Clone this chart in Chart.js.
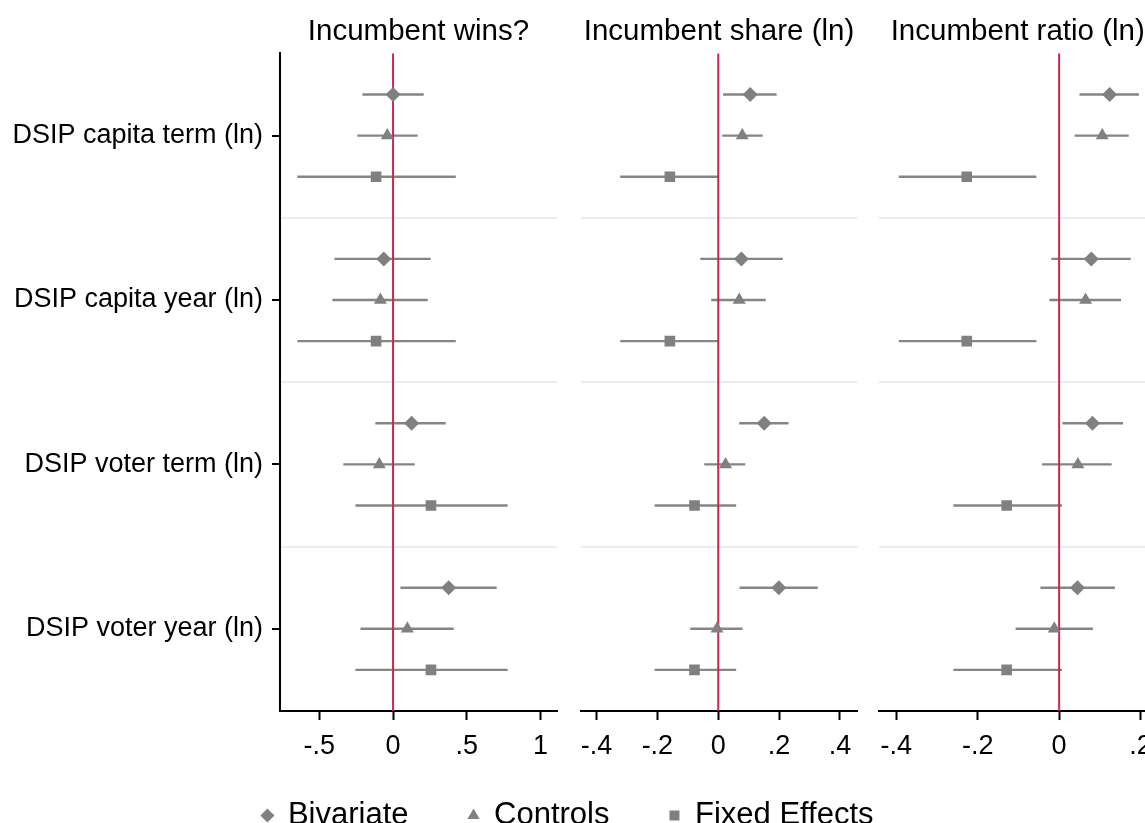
<!DOCTYPE html>
<html>
<head>
<meta charset="utf-8">
<script src="https://cdn.jsdelivr.net/npm/chart.js@4.4.3/dist/chart.umd.min.js"></script>
<style>
  html, body { margin: 0; padding: 0; background: #fff; overflow: hidden; }
  #wrap { position: relative; width: 1145px; height: 823px; overflow: hidden; background: #fff; }
  #wrap canvas { position: absolute; }
</style>
</head>
<body>
<div id="wrap">
  <canvas id="c1" width="570" height="835" style="left:0px;top:0px"></canvas>
  <canvas id="c2" width="300" height="835" style="left:570px;top:0px"></canvas>
  <canvas id="c3" width="300" height="835" style="left:870px;top:0px"></canvas>
  <canvas id="legend" width="1136" height="112" style="left:0px;top:729px"></canvas>
</div>
<script>
// coefficient plot: three outcomes, four DSIP measures, three specifications

const rowLabels = ['DSIP capita term (ln)', 'DSIP capita year (ln)', 'DSIP voter term (ln)', 'DSIP voter year (ln)'];
const seriesNames = ['Bivariate', 'Controls', 'Fixed Effects'];
const panelTitles = ['Incumbent wins?', 'Incumbent share (ln)', 'Incumbent ratio (ln)'];

// Incumbent wins?
const winsBiv   = [0.000, -0.063, 0.126, 0.377];
const winsBivLo = [-0.208, -0.397, -0.120, 0.050];
const winsBivHi = [0.208, 0.255, 0.357, 0.702];
const winsCtl   = [-0.039, -0.086, -0.093, 0.097];
const winsCtlLo = [-0.242, -0.411, -0.337, -0.221];
const winsCtlHi = [0.167, 0.235, 0.147, 0.411];
const winsFE    = [-0.115, -0.115, 0.257, 0.257];
const winsFELo  = [-0.648, -0.648, -0.255, -0.255];
const winsFEHi  = [0.425, 0.425, 0.777, 0.777];

// Incumbent share (ln)
const shareBiv   = [0.105, 0.076, 0.151, 0.199];
const shareBivLo = [0.016, -0.059, 0.069, 0.070];
const shareBivHi = [0.192, 0.212, 0.231, 0.327];
const shareCtl   = [0.079, 0.069, 0.024, -0.004];
const shareCtlLo = [0.013, -0.023, -0.046, -0.092];
const shareCtlHi = [0.146, 0.156, 0.089, 0.080];
const shareFE    = [-0.159, -0.159, -0.078, -0.078];
const shareFELo  = [-0.322, -0.322, -0.209, -0.209];
const shareFEHi  = [0.002, 0.002, 0.059, 0.059];

// Incumbent ratio (ln)
const ratioBiv   = [0.124, 0.079, 0.082, 0.045];
const ratioBivLo = [0.050, -0.019, 0.008, -0.046];
const ratioBivHi = [0.196, 0.176, 0.157, 0.137];
const ratioCtl   = [0.106, 0.065, 0.046, -0.012];
const ratioCtlLo = [0.038, -0.024, -0.042, -0.107];
const ratioCtlHi = [0.171, 0.152, 0.129, 0.083];
const ratioFE    = [-0.227, -0.227, -0.129, -0.129];
const ratioFELo  = [-0.394, -0.394, -0.260, -0.260];
const ratioFEHi  = [-0.056, -0.056, 0.007, 0.007];

// x axis ranges and ticks
const winsRange  = [-0.766, 1.111];
const shareRange = [-0.452, 0.457];
const ratioRange = [-0.4415, 0.238];
const winsTicks  = [-0.5, 0, 0.5, 1];
const winsTickLabels  = ['-.5', '0', '.5', '1'];
const shareTicks = [-0.4, -0.2, 0, 0.2, 0.4];
const shareTickLabels = ['-.4', '-.2', '0', '.2', '.4'];
const ratioTicks = [-0.4, -0.2, 0, 0.2];
const ratioTickLabels = ['-.4', '-.2', '0', '.2'];

const markerStyles = ['rectRot', 'triangle', 'rect'];
const markerSizes = [7.5, 7.5, 7.5];
const markerColor = '#808080';
const barColor = '#858585';
const zeroColor = '#cf2651';
const sepColor = '#e5eef0';

Chart.defaults.font.family = '"Liberation Sans", Arial, sans-serif';
Chart.defaults.color = '#000';

// rows sit at 4*r + s, separators at 4*r + 3
const rowTicks = [1, 3, 5, 7, 9, 11, 13];
const isSep = v => v % 4 === 3;

// horizontal confidence intervals + red zero line, drawn under the markers
const ciPlugin = {
  id: 'ciBars',
  beforeDatasetsDraw(chart) {
    const { ctx, chartArea, scales } = chart;
    const x = scales.x, y = scales.y;
    ctx.save();
    ctx.strokeStyle = barColor;
    ctx.lineWidth = 2.4;
    chart.data.datasets.forEach(ds => {
      ds.data.forEach(p => {
        const py = y.getPixelForValue(p.y);
        ctx.beginPath();
        ctx.moveTo(x.getPixelForValue(p.lo), py);
        ctx.lineTo(x.getPixelForValue(p.hi), py);
        ctx.stroke();
      });
    });
    const x0 = x.getPixelForValue(0);
    ctx.strokeStyle = zeroColor;
    ctx.lineWidth = 2;
    ctx.beginPath();
    ctx.moveTo(x0, chartArea.top);
    ctx.lineTo(x0, chartArea.bottom);
    ctx.stroke();
    ctx.restore();
  }
};

function seriesStyle(s) {
  return {
    label: seriesNames[s],
    pointStyle: markerStyles[s],
    pointRadius: markerSizes[s],
    backgroundColor: markerColor,
    borderColor: markerColor,
    borderWidth: 0
  };
}

function buildPanel(id, p) {
  const datasets = seriesNames.map((name, s) => Object.assign(seriesStyle(s), {
    data: p.series[s][0].map((v, r) => ({ x: v, y: r * 4 + s, lo: p.series[s][1][r], hi: p.series[s][2][r] }))
  }));

  return new Chart(document.getElementById(id), {
    type: 'scatter',
    data: { datasets },
    plugins: [ciPlugin],
    options: {
      responsive: false,
      animation: false,
      layout: { padding: { left: p.padLeft, right: p.padRight, top: 0, bottom: 64 } },
      plugins: {
        title: {
          display: true,
          text: p.title,
          fullSize: false,
          color: '#000',
          font: { size: 29.5, weight: 'normal' },
          padding: { top: 14, bottom: 4 }
        },
        legend: { display: false },
        tooltip: { enabled: false }
      },
      scales: {
        x: {
          type: 'linear',
          min: p.range[0],
          max: p.range[1],
          afterBuildTicks: sc => { sc.ticks = p.ticks.map(v => ({ value: v })); },
          afterFit: sc => { sc.height = 60; },
          ticks: {
            callback: v => p.tickLabels[p.ticks.indexOf(v)],
            font: { size: 27 },
            color: '#000',
            padding: 10,
            maxRotation: 0,
            autoSkip: false
          },
          grid: { drawOnChartArea: false, tickLength: 9, tickWidth: 2, tickColor: '#000' },
          border: { color: '#000', width: 2 }
        },
        y: {
          type: 'linear',
          reverse: true,
          min: -1,
          max: 15,
          afterBuildTicks: sc => { sc.ticks = rowTicks.map(v => ({ value: v })); },
          afterFit: sc => { sc.width = p.first ? 280 : 0; },
          ticks: {
            display: p.first,
            callback: v => isSep(v) ? '' : rowLabels[(v - 1) / 4],
            font: { size: 27 },
            color: '#000',
            padding: 9,
            autoSkip: false
          },
          grid: {
            color: c => (c.tick && isSep(c.tick.value)) ? sepColor : 'rgba(0,0,0,0)',
            tickColor: c => (c.tick && isSep(c.tick.value)) ? 'rgba(0,0,0,0)' : '#000',
            lineWidth: 2,
            tickWidth: 2,
            tickLength: 8,
            drawTicks: p.first
          },
          border: { display: p.first, color: '#000', width: 2 }
        }
      }
    }
  });
}

buildPanel('c1', {
  first: true,
  title: panelTitles[0],
  series: [[winsBiv, winsBivLo, winsBivHi], [winsCtl, winsCtlLo, winsCtlHi], [winsFE, winsFELo, winsFEHi]],
  range: winsRange, ticks: winsTicks, tickLabels: winsTickLabels,
  padLeft: 0, padRight: 13
});
buildPanel('c2', {
  first: false,
  title: panelTitles[1],
  series: [[shareBiv, shareBivLo, shareBivHi], [shareCtl, shareCtlLo, shareCtlHi], [shareFE, shareFELo, shareFEHi]],
  range: shareRange, ticks: shareTicks, tickLabels: shareTickLabels,
  padLeft: 10.7, padRight: 12.7
});
buildPanel('c3', {
  first: false,
  title: panelTitles[2],
  series: [[ratioBiv, ratioBivLo, ratioBivHi], [ratioCtl, ratioCtlLo, ratioCtlHi], [ratioFE, ratioFELo, ratioFEHi]],
  range: ratioRange, ticks: ratioTicks, tickLabels: ratioTickLabels,
  padLeft: 9.3, padRight: 14
});

// shared legend across the three panels
new Chart(document.getElementById('legend'), {
  type: 'scatter',
  data: { datasets: seriesNames.map((n, s) => Object.assign(seriesStyle(s), { data: [] })) },
  options: {
    responsive: false,
    animation: false,
    scales: { x: { display: false }, y: { display: false } },
    plugins: {
      tooltip: { enabled: false },
      legend: {
        position: 'bottom',
        maxHeight: 200,
        labels: {
          usePointStyle: true,
          boxWidth: 10,
          boxHeight: 10,
          padding: 60,
          color: '#000',
          font: { size: 31 }
        }
      }
    }
  }
});
</script>
</body>
</html>
